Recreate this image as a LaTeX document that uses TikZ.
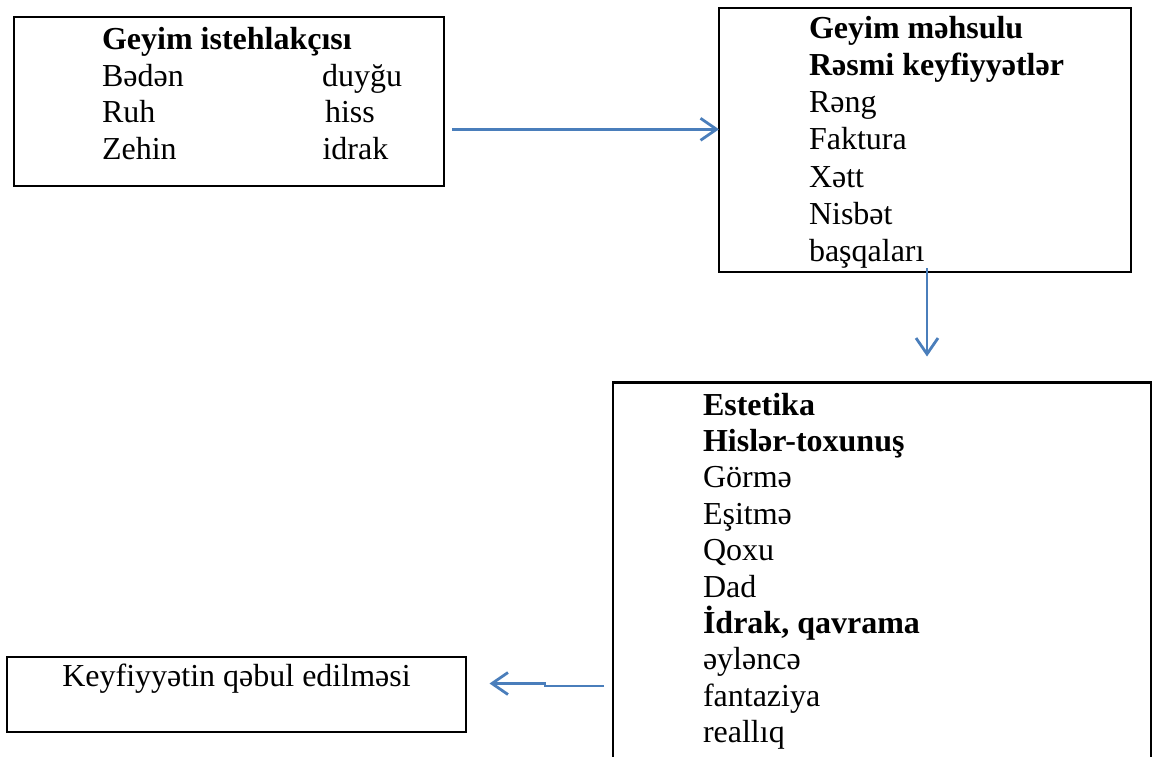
\documentclass[tikz,border=0pt]{standalone}
\usepackage{fontspec}
\setmainfont{Liberation Serif}
\usetikzlibrary{arrows.meta}
\definecolor{arrowblue}{HTML}{4A7EBB}
\tikzset{
  boxshape/.style={draw=black, line width=2.2pt, rectangle, inner sep=0pt, outer sep=0pt, anchor=north west},
  txt/.style={anchor=base west, inner sep=0pt, outer sep=0pt, font=\fontsize{32}{37.4}\selectfont},
  btxt/.style={anchor=base west, inner sep=0pt, outer sep=0pt, font=\fontsize{32}{37.4}\selectfont\bfseries},
  conn/.style={draw=arrowblue, line width=2.8pt, -{Straight Barb[length=16pt,width=22pt,line width=2.8pt]}}
}
\begin{document}
\begin{tikzpicture}[x=1pt,y=-1pt]
\useasboundingbox (0,0) rectangle (1153,756);
\clip (0,0) rectangle (1153,756);
% boxes
\node[boxshape, minimum width=430pt, minimum height=169pt] (box1) at (14,17) {};
\node[boxshape, minimum width=412pt, minimum height=264pt] (box2) at (719,8) {};
\node[boxshape, minimum width=538pt, minimum height=420pt] (box3) at (613,382.5) {};
\node[boxshape, minimum width=459pt, minimum height=75pt] (box4) at (7,657) {};
% box 1 text
\node[btxt] (t1a) at (102,49.5) {Geyim istehlakçısı};
\node[txt] (t1b) at (102,86) {Bədən};
\node[txt] (t1c) at (102,122.5) {Ruh};
\node[txt] (t1d) at (102,159) {Zehin};
\node[txt] (t1e) at (322,86) {duyğu};
\node[txt] (t1f) at (325,122.5) {hiss};
\node[txt] (t1g) at (322.5,159) {idrak};
% box 2 text
\node[btxt] (t2a) at (809,38) {Geyim məhsulu};
\node[btxt] (t2b) at (809,75.3) {Rəsmi keyfiyyətlər};
\node[txt] (t2c) at (809,112.6) {Rəng};
\node[txt] (t2d) at (809,149.9) {Faktura};
\node[txt] (t2e) at (809,187.2) {Xətt};
\node[txt] (t2f) at (809,224.5) {Nisbət};
\node[txt] (t2g) at (809,261.8) {başqaları};
% box 3 text
\node[btxt] (t3a) at (703,415) {Estetika};
\node[btxt] (t3b) at (703,451.4) {Hislər-toxunuş};
\node[txt] (t3c) at (703,487.8) {Görmə};
\node[txt] (t3d) at (703,524.2) {Eşitmə};
\node[txt] (t3e) at (703,560.6) {Qoxu};
\node[txt] (t3f) at (703,597) {Dad};
\node[btxt] (t3g) at (703,633.4) {İdrak, qavrama};
\node[txt] (t3h) at (703,669.8) {əyləncə};
\node[txt] (t3i) at (703,706.2) {fantaziya};
\node[txt] (t3j) at (703,742.6) {reallıq};
% box 4 text
\node[txt, anchor=base] (t4a) at (236.5,686.5) {Keyfiyyətin qəbul edilməsi};
% connectors
\coordinate (a1s) at (452,129.3);
\coordinate (a2s) at (927,268);
\coordinate (a2e) at (927,356.5);
\coordinate (a3s) at (604,686);
\coordinate (a3e) at (489.5,683.5);
\draw[conn] (a1s) -- (box2.west |- a1s);
\draw[conn] (a2s) -- (a2e);
\draw[conn] (a3s) -- ++(-59,0) |- (a3e);
\end{tikzpicture}
\end{document}
